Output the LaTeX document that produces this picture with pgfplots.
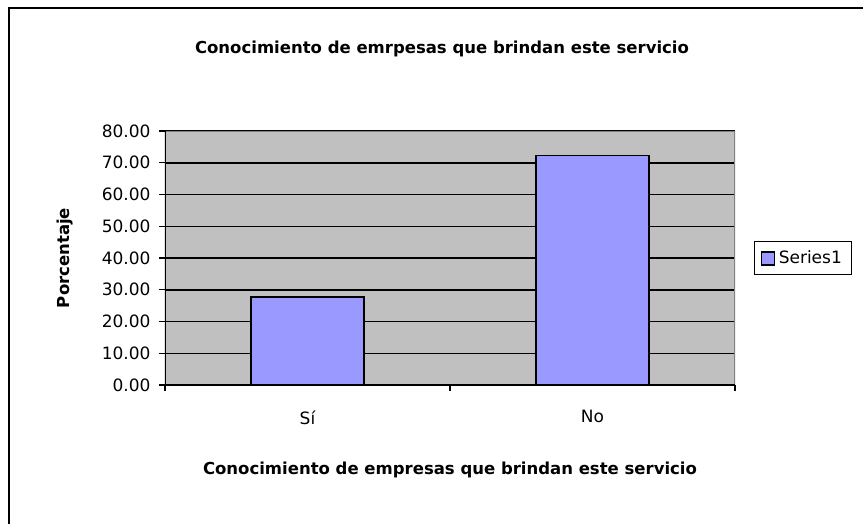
\documentclass[border=0pt]{standalone}
\usepackage{fontspec}
\setmainfont{DejaVu Sans}
\usepackage{pgfplots}
\pgfplotsset{compat=1.18}
\definecolor{barblue}{HTML}{9999FF}
\definecolor{plotgray}{HTML}{C0C0C0}
\definecolor{bordergray}{HTML}{808080}
\pgfplotstableread{
x y
0 27.78
1 72.22
}\datatable
\begin{document}
\begin{tikzpicture}
\path[use as bounding box] (0pt,0pt) rectangle (863pt,523pt);
\draw[line width=1.6pt] (9pt,-5pt) -- (9pt,515pt) -- (870pt,515pt);
\begin{axis}[
  at={(165pt,138pt)}, anchor=south west,
  scale only axis, width=570pt, height=254pt,
  xmin=-0.5, xmax=1.5, ymin=0, ymax=80,
  ybar, bar width=113pt,
  axis background/.style={fill=plotgray},
  axis line style={draw=none},
  ytick={0,10,...,80},
  yticklabel={\pgfmathprintnumber[fixed,fixed zerofill,precision=2]{\tick}},
  /pgf/number format/assume math mode=true,
  ytick pos=left,
  ymajorgrids, grid style={black, line width=1.5pt},
  xtick={-0.5,0.5,1.5}, xticklabels={},
  xtick pos=bottom,
  extra x ticks={0,1}, extra x tick labels={Sí,No},
  extra x tick style={major tick length=0pt, grid=none},
  tick align=outside, major tick length=6pt,
  tick style={black, line width=1.2pt},
  ticklabel style={font=\fontsize{17}{19}\selectfont},
  yticklabel style={xshift=-5pt},
  xticklabel style={yshift=-22pt},
  ylabel={\bfseries Porcentaje},
  every axis y label/.append style={at={(axis description cs:-0.175,0.5)}, anchor=center, font=\fontsize{16.5}{19}\selectfont},
  xlabel={\bfseries Conocimiento de empresas que brindan este servicio},
  every axis x label/.append style={at={(axis description cs:0.5,-0.335)}, anchor=center, font=\fontsize{16.5}{19}\selectfont},
  title={\bfseries Conocimiento de emrpesas que brindan este servicio},
  title style={at={(axis description cs:0.486,1.30)}, anchor=center, font=\fontsize{16.5}{19}\selectfont},
  legend style={at={(axis description cs:1.0333,0.5)}, anchor=west, draw=black, line width=1.2pt,
    font=\fontsize{17}{19}\selectfont, inner xsep=6pt, inner ysep=7pt, legend cell align=left,
    nodes={inner xsep=4pt}},
  legend image code/.code={\draw[#1, line width=1.2pt] (0pt,-7pt) rectangle (13pt,6pt);},
]
\addplot[fill=barblue, draw=black, line width=1.4pt] table[x=x, y=y] {\datatable};
\addlegendentry{Series1}
\draw[bordergray, line width=1.2pt] (rel axis cs:0,1) -- (rel axis cs:1,1) -- (rel axis cs:1,0);
\draw[black, line width=1.5pt] (rel axis cs:0,1) -- (rel axis cs:0,0) -- (rel axis cs:1,0);
\end{axis}
\end{tikzpicture}
\end{document}
